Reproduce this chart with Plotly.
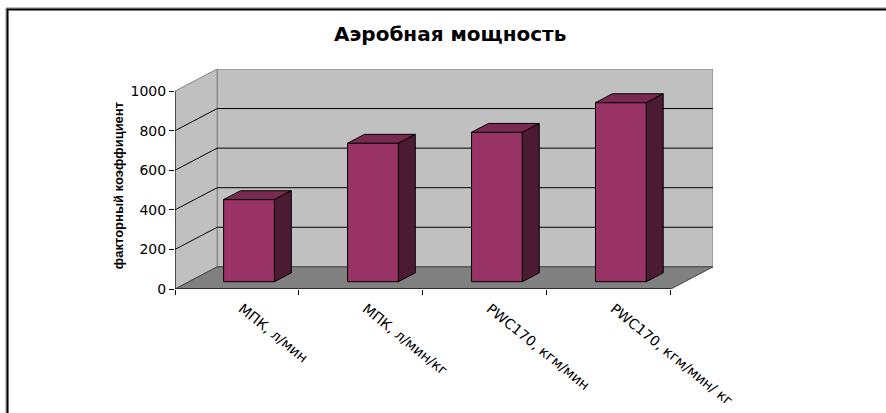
import plotly.graph_objects as go

# ---- data ----
categories = ["МПК, л/мин", "МПК, л/мин/кг", "PWC170, кгм/мин", "PWC170, кгм/мин/ кг"]
values = [415, 700, 755, 905]
y_ticks = [0, 200, 400, 600, 800, 1000]
chart_title = "Аэробная мощность"
y_title = "факторный коэффициент"

# ---- layout geometry ----
W, H = 886, 413
CAT_PX = 124            # pixel width of one category
DEPTH_X = 0.34          # depth offset, in category units
DEPTH_Y = 112           # depth offset, in value units
Y_MAX = max(y_ticks)
N = len(categories)
X_RANGE = [0, N + DEPTH_X]
Y_RANGE = [0, Y_MAX + DEPTH_Y]
M_L, M_T, M_B = 175, 69, 124
PLOT_W = CAT_PX * X_RANGE[1]
M_R = W - M_L - PLOT_W
PLOT_H = H - M_T - M_B

WALL = "#C0C0C0"
FLOOR = "#808080"
EDGE = "#7F7F7F"
FRONT = "#993366"
TOP = "#7A2952"
SIDE = "#4D1A33"

BAR_X0, BAR_X1 = 0.28, 0.69   # bar extent inside its category slot
BAR_D0, BAR_D1 = 0.33, 0.73   # bar extent in depth


def proj(x, v, d):
    """Oblique projection of (category x, value v, depth d) onto the 2D axes."""
    return x + d * DEPTH_X, v + d * DEPTH_Y


def poly(points, fill, line_color="black", width=1):
    pts = [proj(*p) for p in points]
    xs = [p[0] for p in pts] + [pts[0][0]]
    ys = [p[1] for p in pts] + [pts[0][1]]
    return go.Scatter(x=xs, y=ys, mode="lines", fill="toself", fillcolor=fill,
                      line=dict(color=line_color, width=width),
                      hoverinfo="skip", showlegend=False)


def seg(p0, p1, color="black", width=1):
    a, b = proj(*p0), proj(*p1)
    return go.Scatter(x=[a[0], b[0]], y=[a[1], b[1]], mode="lines",
                      line=dict(color=color, width=width),
                      hoverinfo="skip", showlegend=False)


fig = go.Figure()

# walls and floor
fig.add_trace(poly([(0, 0, 1), (N, 0, 1), (N, Y_MAX, 1), (0, Y_MAX, 1)], WALL, EDGE))
fig.add_trace(poly([(0, 0, 0), (0, Y_MAX, 0), (0, Y_MAX, 1), (0, 0, 1)], WALL, EDGE))
fig.add_trace(poly([(0, 0, 0), (N, 0, 0), (N, 0, 1), (0, 0, 1)], FLOOR, "#404040"))

# gridlines on the back and side walls
for t in y_ticks[1:-1]:
    fig.add_trace(seg((0, t, 0), (0, t, 1)))
    fig.add_trace(seg((0, t, 1), (N, t, 1)))

# front axis lines
fig.add_trace(seg((0, 0, 0), (0, Y_MAX, 0)))
fig.add_trace(seg((0, 0, 0), (N, 0, 0)))

# 3D bars
for i, v in enumerate(values):
    x0, x1 = i + BAR_X0, i + BAR_X1
    fig.add_trace(poly([(x0, 0, BAR_D0), (x1, 0, BAR_D0), (x1, v, BAR_D0), (x0, v, BAR_D0)], FRONT))
    fig.add_trace(poly([(x0, v, BAR_D0), (x1, v, BAR_D0), (x1, v, BAR_D1), (x0, v, BAR_D1)], TOP))
    fig.add_trace(poly([(x1, 0, BAR_D0), (x1, 0, BAR_D1), (x1, v, BAR_D1), (x1, v, BAR_D0)], SIDE))


def px_x(px):
    return (px - M_L) / PLOT_W


def px_y(py):
    return (H - M_B - py) / PLOT_H


fig.update_layout(
    width=W, height=H,
    margin=dict(l=M_L, r=M_R, t=M_T, b=M_B, pad=0, autoexpand=False),
    paper_bgcolor="white", plot_bgcolor="white",
    showlegend=False,
    xaxis=dict(range=X_RANGE, showgrid=False, zeroline=False, showline=False,
               automargin=False,
               tickvals=[i + 0.5 for i in range(N)], ticktext=categories,
               tickangle=39, ticks="", ticklabelstandoff=8, ticklabelshift=5,
               tickfont=dict(family="DejaVu Sans", size=14, color="black"),
               minor=dict(tickvals=list(range(N + 1)), ticks="outside",
                          ticklen=5, tickcolor="black", tickwidth=1, showgrid=False),
               fixedrange=True),
    yaxis=dict(range=Y_RANGE, showgrid=False, zeroline=False, showline=False,
               automargin=False,
               tickvals=y_ticks, ticks="outside", ticklen=5, tickcolor="black",
               tickfont=dict(family="DejaVu Sans", size=14, color="black"),
               fixedrange=True),
    annotations=[
        dict(text=chart_title, xref="paper", yref="paper",
             x=px_x(450), y=px_y(34), xanchor="center", yanchor="middle",
             showarrow=False,
             font=dict(family="DejaVu Sans", size=20, color="black", weight="bold")),
        dict(text=y_title, xref="paper", yref="y",
             x=px_x(118), y=520, xanchor="center", yanchor="middle",
             textangle=-90, showarrow=False,
             font=dict(family="Liberation Sans", size=13, color="black", weight="bold")),
    ],
    shapes=[
        dict(type="rect", xref="paper", yref="paper",
             x0=px_x(6), y0=px_y(8), x1=px_x(W + 20), y1=px_y(H + 20),
             line=dict(color="#808080", width=1), layer="below"),
        dict(type="rect", xref="paper", yref="paper",
             x0=px_x(7.5), y0=px_y(9.5), x1=px_x(W + 20), y1=px_y(H + 20),
             line=dict(color="black", width=2), layer="below"),
    ],
)

fig.write_html("out.html")
